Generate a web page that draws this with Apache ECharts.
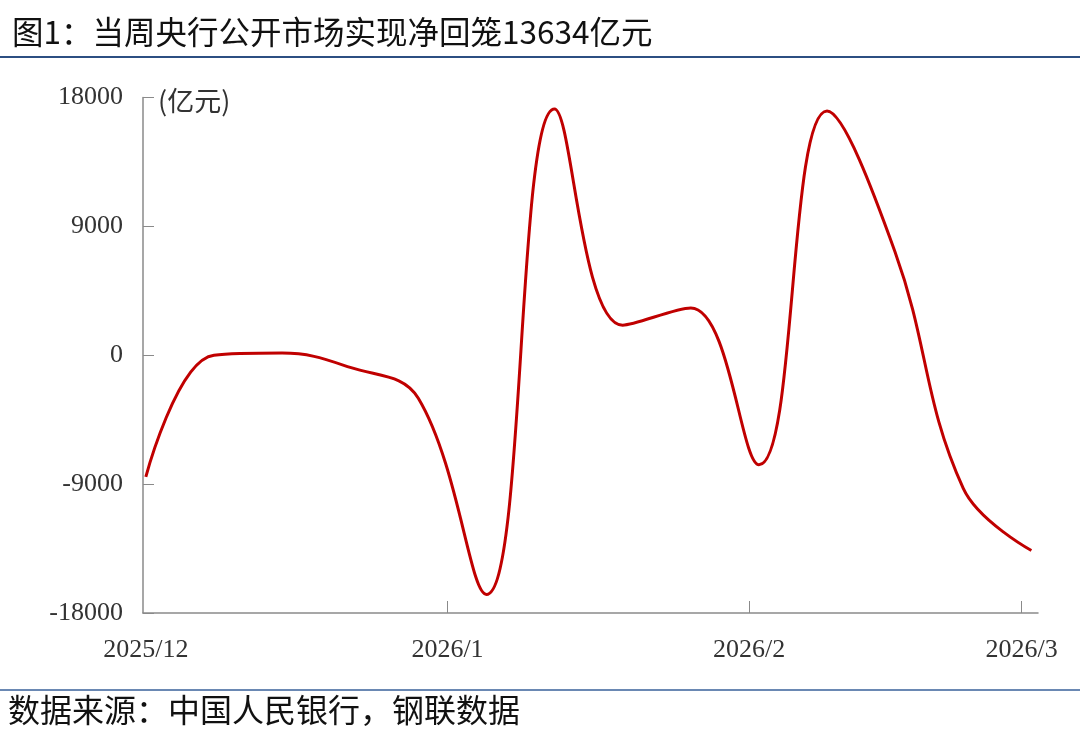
<!DOCTYPE html>
<html>
<head>
<meta charset="utf-8">
<script src="https://cdn.jsdelivr.net/npm/echarts@6/dist/echarts.min.js"></script>
<style>
html,body{margin:0;padding:0;background:#fff;}
#chart{width:1080px;height:749px;}
</style>
</head>
<body>
<div id="chart"></div>
<script>
// ---- data ----
const weekDates = ['2025-12-01','2025-12-08','2025-12-15','2025-12-22','2025-12-29','2026-01-05','2026-01-12','2026-01-19','2026-01-26','2026-02-02','2026-02-09','2026-02-16','2026-02-23','2026-03-02'];
const netValues = [-8500, 0, 150, -850, -3000, -16700, 17200, 2100, 3300, -7650, 17050, 7200, -9300, -13634];
const xTickDates = ['2025-12-01','2026-01-01','2026-02-01','2026-03-01'];
const xTickLabels = ['2025/12','2026/1','2026/2','2026/3'];
const yTicks = [-18000, -9000, 0, 9000, 18000];
const titleText = '图1：当周央行公开市场实现净回笼13634亿元';
const unitText = '(亿元)';
const sourceText = '数据来源：中国人民银行，钢联数据';

// x positions are day numbers counted from the first date (value axis)
const DAY = 86400000;
function dayNum(s){ const p = s.split('-').map(Number); return Math.round((Date.UTC(p[0], p[1]-1, p[2]) - Date.UTC(2025, 11, 1)) / DAY); }
const seriesData = weekDates.map((d,i)=>[dayNum(d), netValues[i]]);
const tickDays = xTickDates.map(dayNum);
const labelMap = {};
tickDays.forEach((t,i)=>{ labelMap[t] = xTickLabels[i]; });

const chart = echarts.init(document.getElementById('chart'));
chart.setOption({
  backgroundColor: '#ffffff',
  animation: false,
  title: {
    text: titleText,
    left: 7, top: 11,
    textStyle: { fontFamily: 'Noto Sans CJK SC', fontWeight: 'normal', fontSize: 31.5, color: '#111' }
  },
  grid: { left: 143, right: 42, top: 97.5, bottom: 136, outerBoundsMode: 'none' },
  xAxis: {
    type: 'value',
    min: -0.29,
    max: 91.68,
    splitLine: { show: false },
    axisLine: { show: true, onZero: false, lineStyle: { color: '#8a8a8a', width: 1.5 } },
    axisTick: { show: true, inside: true, length: 12, customValues: tickDays.slice(1), lineStyle: { color: '#8a8a8a', width: 1 } },
    axisLabel: {
      customValues: tickDays,
      margin: 24,
      fontFamily: 'Liberation Serif', fontSize: 26, color: '#333',
      formatter: function(v){ return labelMap[v] || ''; }
    }
  },
  yAxis: {
    type: 'value',
    min: yTicks[0], max: yTicks[yTicks.length-1], interval: 9000,
    splitLine: { show: false },
    axisLine: { show: true, onZero: false, lineStyle: { color: '#8a8a8a', width: 1.5 } },
    axisTick: { show: true, inside: true, length: 11, lineStyle: { color: '#8a8a8a', width: 1 } },
    axisLabel: {
      margin: 20,
      padding: [4, 0, 0, 0],
      fontFamily: 'Liberation Serif', fontSize: 26, color: '#333',
      formatter: function(v){ return String(v); }
    }
  },
  series: [{
    type: 'line',
    data: seriesData,
    smooth: 0.4,
    showSymbol: false,
    lineStyle: { color: '#C00000', width: 3 }
  }],
  graphic: [
    { type: 'line', shape: { x1: 0, y1: 57, x2: 1080, y2: 57 }, style: { stroke: '#2c4f82', lineWidth: 2 } },
    { type: 'line', shape: { x1: 0, y1: 690, x2: 1080, y2: 690 }, style: { stroke: '#6a88b3', lineWidth: 2 } },
    { type: 'text', left: 158, top: 87, style: { text: unitText, fontFamily: 'Noto Sans CJK SC', fontSize: 27, fill: '#333' } },
    { type: 'text', left: 8, top: 694, style: { text: sourceText, fontFamily: 'Noto Sans CJK SC', fontSize: 32, fill: '#111' } }
  ]
});
</script>
</body>
</html>
